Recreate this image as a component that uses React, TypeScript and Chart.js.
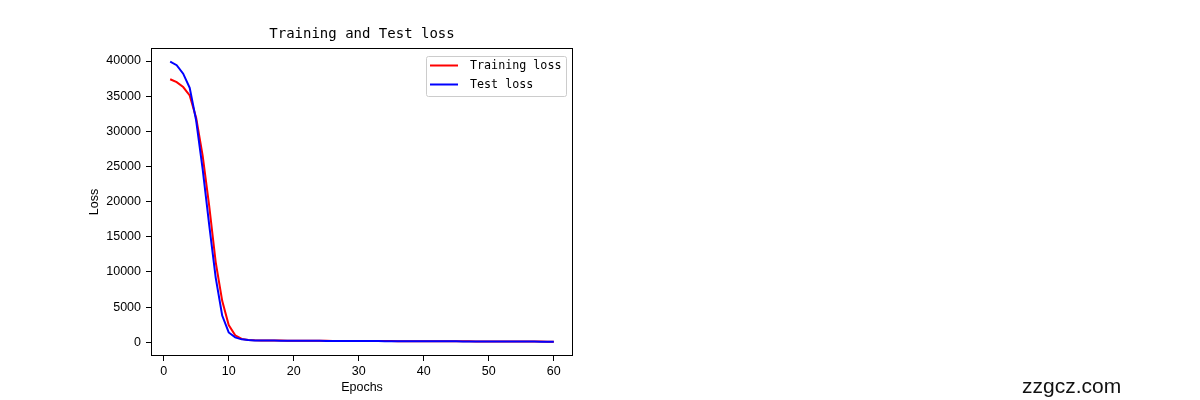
import { Chart, registerables } from 'chart.js';
import { useEffect, useRef } from 'react';

Chart.register(...registerables);

const epochs = [
    1, 2, 3, 4, 5, 6, 7, 8, 9, 10, 11, 12, 13, 14, 15, 16, 17, 18, 19, 20,
    21, 22, 23, 24, 25, 26, 27, 28, 29, 30, 31, 32, 33, 34, 35, 36, 37, 38, 39, 40,
    41, 42, 43, 44, 45, 46, 47, 48, 49, 50, 51, 52, 53, 54, 55, 56, 57, 58, 59, 60
];

const trainingLoss = [
    37400, 37000, 36300, 35100, 31900, 26500, 19400, 11400, 5900, 2450,
    1000, 480, 330, 285, 268, 256, 247, 239, 232, 226,
    221, 215, 211, 206, 202, 198, 194, 190, 187, 183,
    180, 176, 173, 170, 166, 163, 160, 157, 154, 151,
    148, 145, 142, 139, 136, 133, 130, 127, 124, 121,
    118, 115, 112, 109, 106, 103, 100, 97, 94, 91
];

const testLoss = [
    39900, 39400, 38200, 36200, 31500, 24600, 16700, 9200, 3800, 1400,
    700, 420, 320, 270, 258, 248, 240, 233, 227, 221,
    216, 211, 206, 202, 198, 194, 190, 186, 182, 179,
    175, 172, 168, 165, 162, 158, 155, 152, 149, 146,
    143, 140, 137, 134, 131, 128, 125, 122, 119, 116,
    113, 110, 107, 104, 101, 98, 95, 92, 89, 86
];

const xTicks = [0, 10, 20, 30, 40, 50, 60];
const yTicks = [0, 5000, 10000, 15000, 20000, 25000, 30000, 35000, 40000];

const seriesNames = ['Training loss', 'Test loss'];
const seriesColors = ['#ff0000', '#0000ff'];

const chartTitle = 'Training and Test loss';
const watermark = 'zzgcz.com';

const monoFont = '"DejaVu Sans Mono", "Liberation Mono", monospace';
const sansFont = '"Liberation Sans", Arial, sans-serif';

const decorations = {
    id: 'decorations',
    afterDraw(chart: Chart) {
        const { ctx, chartArea } = chart;
        ctx.save();

        // full frame around the plot
        ctx.strokeStyle = '#000';
        ctx.lineWidth = 1;
        ctx.strokeRect(chartArea.left + 0.5, chartArea.top + 0.5,
            chartArea.right - chartArea.left - 1, chartArea.bottom - chartArea.top - 1);

        // title
        ctx.fillStyle = '#000';
        ctx.font = `14px ${monoFont}`;
        ctx.textAlign = 'center';
        ctx.textBaseline = 'middle';
        ctx.fillText(chartTitle, (chartArea.left + chartArea.right) / 2, 34);

        // legend box
        const bx = chartArea.right - 146.5, by = chartArea.top + 8.5, bw = 140, bh = 40;
        ctx.fillStyle = 'rgba(255,255,255,0.8)';
        ctx.strokeStyle = '#cccccc';
        ctx.beginPath();
        ctx.roundRect(bx, by, bw, bh, 2);
        ctx.fill();
        ctx.stroke();

        ctx.font = `11.7px ${monoFont}`;
        ctx.textAlign = 'left';
        seriesNames.forEach((name, i) => {
            const y = by + 9 + i * 19;
            ctx.strokeStyle = seriesColors[i];
            ctx.lineWidth = 2;
            ctx.beginPath();
            ctx.moveTo(bx + 3.5, y);
            ctx.lineTo(bx + 31.5, y);
            ctx.stroke();
            ctx.fillStyle = '#000';
            ctx.fillText(name, bx + 43.5, y);
        });

        // watermark
        ctx.font = `21px ${sansFont}`;
        ctx.fillStyle = '#111';
        ctx.textBaseline = 'alphabetic';
        ctx.fillText(watermark, 1022, 393);

        ctx.restore();
    }
};

function LossChart() {
    const canvasRef = useRef<HTMLCanvasElement>(null);
    const chartRef = useRef<Chart | null>(null);

    useEffect(() => {
        if (!canvasRef.current) return;
        const ctx = canvasRef.current.getContext('2d');
        if (!ctx) return;

        if (chartRef.current) chartRef.current.destroy();

        chartRef.current = new Chart(ctx, {
            type: 'line',
            data: {
                datasets: [
                    {
                        label: seriesNames[0],
                        data: epochs.map((e, i) => ({ x: e, y: trainingLoss[i] })),
                        borderColor: seriesColors[0],
                        borderWidth: 2,
                        pointRadius: 0,
                        tension: 0,
                        order: 1
                    },
                    {
                        label: seriesNames[1],
                        data: epochs.map((e, i) => ({ x: e, y: testLoss[i] })),
                        borderColor: seriesColors[1],
                        borderWidth: 2,
                        pointRadius: 0,
                        tension: 0,
                        order: 0
                    }
                ]
            },
            options: {
                animation: false,
                responsive: true,
                maintainAspectRatio: false,
                layout: { padding: { left: 87, right: 627, top: 48, bottom: 5 } },
                plugins: {
                    legend: { display: false },
                    title: { display: false },
                    tooltip: { enabled: false }
                },
                scales: {
                    x: {
                        type: 'linear',
                        min: -1.95,
                        max: 62.95,
                        afterBuildTicks: (scale: any) => {
                            scale.ticks = xTicks.map(v => ({ value: v }));
                        },
                        afterFit: (scale: any) => { scale.height = 39; },
                        grid: { drawOnChartArea: false, drawTicks: true, tickLength: 5, color: '#000' },
                        border: { display: false },
                        ticks: {
                            color: '#000', padding: 3, maxRotation: 0,
                            font: { family: sansFont, size: 12.5 },
                            callback: (v: any) => String(v)
                        },
                        title: { display: true, text: 'Epochs', color: '#000', padding: 0, font: { family: sansFont, size: 12.5 } }
                    },
                    y: {
                        type: 'linear',
                        min: -1950,
                        max: 41850,
                        afterBuildTicks: (scale: any) => {
                            scale.ticks = yTicks.map(v => ({ value: v }));
                        },
                        afterFit: (scale: any) => { scale.width = 64; },
                        grid: { drawOnChartArea: false, drawTicks: true, tickLength: 5, color: '#000' },
                        border: { display: false },
                        ticks: {
                            color: '#000', padding: 5,
                            font: { family: sansFont, size: 12.5 },
                            callback: (v: any) => String(v)
                        },
                        title: { display: true, text: 'Loss', color: '#000', padding: 0, font: { family: sansFont, size: 12.5 } }
                    }
                }
            },
            plugins: [decorations]
        });

        return () => {
            if (chartRef.current) {
                chartRef.current.destroy();
                chartRef.current = null;
            }
        };
    }, []);

    return <canvas ref={canvasRef} />;
}

export default function App() {
    return (
        <div style={{ position: 'fixed', left: 0, top: 0, width: 1200, height: 400, background: '#fff' }}>
            <LossChart />
        </div>
    );
}
